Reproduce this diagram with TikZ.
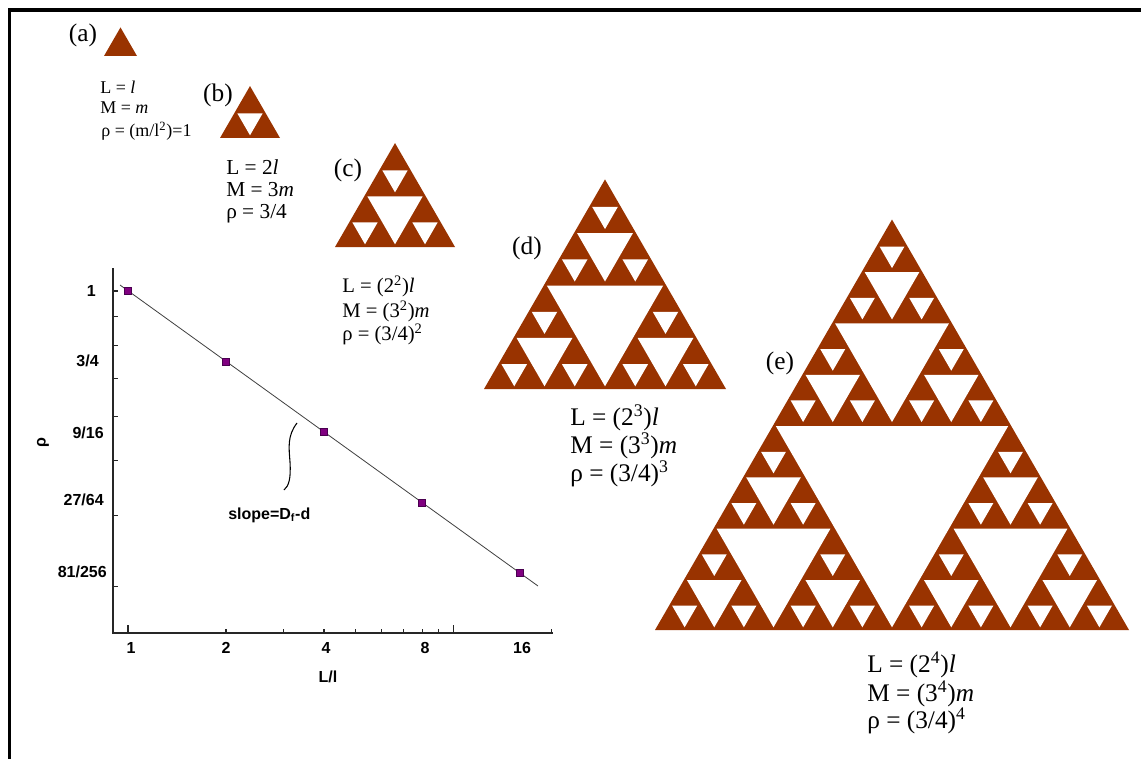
\documentclass[tikz,border=0pt]{standalone}
\usepackage{fontspec}
\setmainfont{Liberation Serif}
\newfontfamily\plotfont{Liberation Sans}
\definecolor{tribrown}{HTML}{993300}
\definecolor{ptpurple}{HTML}{800080}
\definecolor{ptedge}{HTML}{4A0050}
\def\gapd{1.35}
\newcommand\sierpholes[4]{%
 \ifnum#4>0\relax
 \begingroup
  \pgfmathsetmacro\sS{#3}%
  \pgfmathsetmacro\sH{#3*0.8660254}%
  \pgfmathsetmacro\sX{#1}%
  \pgfmathsetmacro\sY{#2}%
  \pgfmathsetmacro\sF{max(0,1-\gapd/(\sH/6))}%
  \pgfmathsetmacro\cX{\sX+\sS/2}%
  \pgfmathsetmacro\cY{\sY-\sH/3}%
  \pgfmathsetmacro\dX{\sF*\sS/4}%
  \pgfmathsetmacro\dU{\sF*\sH/6}%
  \pgfmathsetmacro\dD{\sF*\sH/3}%
  \fill[holefill] (\cX-\dX,\cY-\dU) -- (\cX+\dX,\cY-\dU) -- (\cX,\cY+\dD) -- cycle;
  \pgfmathsetmacro\hS{\sS/2}%
  \pgfmathsetmacro\xR{\sX+\sS/2}%
  \pgfmathsetmacro\xT{\sX+\sS/4}%
  \pgfmathsetmacro\yT{\sY-\sH/2}%
  \pgfmathtruncatemacro\nN{#4-1}%
  \edef\sierpnext{\noexpand\sierpholes{\sX}{\sY}{\hS}{\nN}\noexpand\sierpholes{\xR}{\sY}{\hS}{\nN}\noexpand\sierpholes{\xT}{\yT}{\hS}{\nN}}%
  \sierpnext
 \endgroup
 \fi}
\newcommand\sierp[4]{% x-left, y-base, side, depth
 \begingroup
 \pgfmathsetmacro\tH{#3*0.8660254}%
 \fill[trifill] (#1,#2) -- (#1+#3,#2) -- (#1+#3/2,#2-\tH) -- cycle;
 \sierpholes{#1}{#2}{#3}{#4}%
 \endgroup}
\begin{document}
\begin{tikzpicture}[x=0.75pt,y=-0.75pt,
 trifill/.style={fill=tribrown},
 holefill/.style={fill=white},
 frameline/.style={line width=2.6pt,black},
 lbl/.style={font=\fontsize{19}{22}\selectfont,inner sep=0pt},
 txa/.style={font=\fontsize{13.5}{15}\selectfont,inner sep=0pt,anchor=base west},
 txb/.style={font=\fontsize{16}{18}\selectfont,inner sep=0pt,anchor=base west},
 txc/.style={font=\fontsize{15.5}{18}\selectfont,inner sep=0pt,anchor=base west},
 txd/.style={font=\fontsize{19}{22}\selectfont,inner sep=0pt,anchor=base west},
 axisline/.style={line width=1.1pt,black!85},
 tickline/.style={line width=0.8pt,black!85},
 ticklbl/.style={font=\plotfont\bfseries\fontsize{12}{14}\selectfont,inner sep=0pt},
 fitline/.style={line width=0.6pt,black!75},
 pt/.style={rectangle,draw=ptedge,fill=ptpurple,line width=0.4pt,minimum size=5.6pt,inner sep=0pt},
 annot/.style={line width=0.8pt,black}]
\useasboundingbox (0,0) rectangle (1141,759);
\fill[white] (0,0) rectangle (1141,759);
% frame
\coordinate (fbl) at (9.5,759);
\coordinate (ftl) at (9.5,10);
\coordinate (ftr) at (1141,10);
\draw[frameline] (fbl) -- (ftl) -- (ftr);

% triangles
\sierp{104}{56}{33}{0}
\sierp{220}{138}{60}{1}
\sierp{335}{247}{120}{2}
\sierp{484}{389}{242}{3}
\sierp{655}{630}{474}{4}

% labels
\node[lbl] (la) at (83,35) {(a)};
\node[lbl] (lb) at (218,95) {(b)};
\node[lbl] (lc) at (348,170) {(c)};
\node[lbl] (ld) at (527,248) {(d)};
\node[lbl] (le) at (780,363) {(e)};

% texts
\node[txa] (a1) at (100,94) {L = \textit{l}};
\node[txa] (a2) at (100,114) {M = \textit{m}};
\node[txa] (a3) at (101,137) {ρ = (m/l\textsuperscript{2})=1};

\node[txb] (b1) at (226,175) {L = 2\textit{l}};
\node[txb] (b2) at (226,197) {M = 3\textit{m}};
\node[txb] (b3) at (226,219) {ρ = 3/4};

\node[txc] (c1) at (342,292) {L = (2\textsuperscript{2})\textit{l}};
\node[txc] (c2) at (342,317) {M = (3\textsuperscript{2})\textit{m}};
\node[txc] (c3) at (342,340) {ρ = (3/4)\textsuperscript{2}};

\node[txd] (d1) at (570,425) {L = (2\textsuperscript{3})\textit{l}};
\node[txd] (d2) at (570,453) {M = (3\textsuperscript{3})\textit{m}};
\node[txd] (d3) at (570,481) {ρ = (3/4)\textsuperscript{3}};

\node[txd] (e1) at (867,672) {L = (2\textsuperscript{4})\textit{l}};
\node[txd] (e2) at (867,701) {M = (3\textsuperscript{4})\textit{m}};
\node[txd] (e3) at (867,728) {ρ = (3/4)\textsuperscript{4}};

% plot axes
\coordinate (ytop) at (113,268);
\coordinate (org) at (113,633);
\coordinate (xend) at (553,633);
\draw[axisline] (ytop) -- (org) -- (xend);
\foreach \v/\len in {1/8,2/4,3/4,4/4,5/4,6/4,7/4,8/4,9/4,10/8,20/4}{
  \pgfmathsetmacro\xx{128+98*ln(\v)/ln(2)}
  \draw[tickline] (\xx,633) -- (\xx,633-\len);
}
\foreach \r in {0.3,0.4,0.5,0.6,0.7,0.8,0.9,1.0}{
  \pgfmathsetmacro\yy{291-245.06*ln(\r)}
  \draw[tickline] (113,\yy) -- (118,\yy);
}
% x tick labels
\node[ticklbl] (x1) at (131,648) {1};
\node[ticklbl] (x2) at (226,648) {2};
\node[ticklbl] (x4) at (326,648) {4};
\node[ticklbl] (x8) at (425,648) {8};
\node[ticklbl] (x16) at (522,648) {16};
% y tick labels
\node[ticklbl,anchor=east] (y1) at (96,291) {1};
\node[ticklbl,anchor=east] (y2) at (99,361) {3/4};
\node[ticklbl,anchor=east] (y3) at (104,433) {9/16};
\node[ticklbl,anchor=east] (y4) at (104,500) {27/64};
\node[ticklbl,anchor=east] (y5) at (107,572) {81/256};
% axis titles
\node[ticklbl] (xt) at (328,677) {L/l};
\node[ticklbl,rotate=90] (yt) at (43,443) {ρ};

% fit line and data
\coordinate (fitS) at (120,285);
\coordinate (fitE) at (538,586);
\draw[fitline] (fitS) -- (fitE);
\node[pt] (p1) at (128,291) {};
\node[pt] (p2) at (226,361.5) {};
\node[pt] (p3) at (324,432) {};
\node[pt] (p4) at (422,502.5) {};
\node[pt] (p5) at (520,573) {};

% annotation
\node[ticklbl,anchor=base west] (slope) at (228,519) {slope=D\textsubscript{f}-d};
\coordinate (cA) at (297,423);
\coordinate (cB) at (290,462);
\coordinate (cC) at (284,490);
\draw[annot] (cA) .. controls (287,436) and (289,448) .. (cB) .. controls (291,478) and (289,486) .. (cC);
\end{tikzpicture}
\end{document}
